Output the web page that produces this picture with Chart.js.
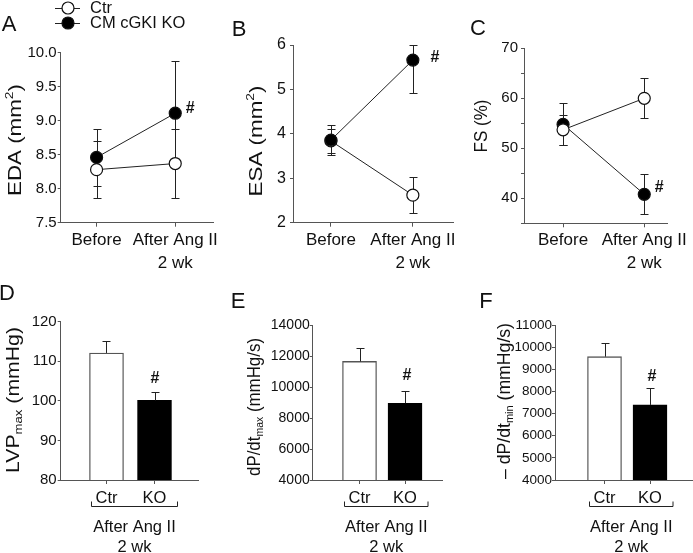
<!DOCTYPE html>
<html>
<head>
<meta charset="utf-8">
<script src="https://cdn.jsdelivr.net/npm/chart.js@4.4.0/dist/chart.umd.min.js"></script>
<style>
  body { margin: 0; background: #fff; }
  #wrap { position: relative; width: 693px; height: 553px; overflow: hidden; }
  #wrap canvas { position: absolute; }
</style>
</head>
<body>
<div id="wrap">
  <canvas id="cA"></canvas>
  <canvas id="cB"></canvas>
  <canvas id="cC"></canvas>
  <canvas id="cD"></canvas>
  <canvas id="cE"></canvas>
  <canvas id="cF"></canvas>
</div>
<script>
// ---- data ----
var groups = ['Ctr', 'CM cGKI KO'];
var timeLabels = ['Before', ['After Ang II', '2 wk']];
var barLabels = ['Ctr', 'KO'];
var groupLabel = ['After Ang II', '2 wk'];

// echo, mean and SD for Ctr / KO at Before, After
var edaCtr = [8.28, 8.37], edaCtrErr = [0.42, 0.51];
var edaKO = [8.46, 9.11], edaKOErr = [0.42, 0.77];
var esaCtr = [3.84, 2.62], esaCtrErr = [0.28, 0.41];
var esaKO = [3.86, 5.66], esaKOErr = [0.34, 0.74];
var fsCtr = [53.7, 60.0], fsCtrErr = [3.0, 4.0];
var fsKO = [54.8, 40.8], fsKOErr = [4.2, 4.0];

// haemodynamics after Ang II, Ctr / KO
var lvpMean = [112.1, 100.1], lvpErr = [3.0, 2.1];
var dpMaxMean = [11650, 8950], dpMaxErr = [860, 770];
var dpMinMean = [9570, 7390], dpMinErr = [600, 750];

// axis ticks
var edaTicks = [7.5, 8.0, 8.5, 9.0, 9.5, 10.0];
var esaTicks = [2, 3, 4, 5, 6];
var fsTicks = [35, 40, 45, 50, 55, 60, 65, 70];
var lvpTicks = [80, 90, 100, 110, 120];
var dpMaxTicks = [4000, 6000, 8000, 10000, 12000, 14000];
var dpMinTicks = [4000, 5000, 6000, 7000, 8000, 9000, 10000, 11000];

var FONT = "'Liberation Sans', Arial, sans-serif";
var AXIS = '#555';
var INK = '#111';

function pts(vals) {
    return vals.map(function (v, i) { return { x: i + 1, y: v }; });
}

// rotated axis title with sub/superscript pieces, stretched to a given length
function drawRich(ctx, parts, size, cx, cy, len) {
    var widths = [], total = 0;
    parts.forEach(function (p) {
        ctx.font = (p[1] ? size * 0.62 : size) + 'px ' + FONT;
        var w = ctx.measureText(p[0]).width;
        widths.push(w);
        total += w;
    });
    ctx.save();
    ctx.translate(cx, cy);
    ctx.rotate(-Math.PI / 2);
    if (len) { ctx.scale(len / total, 1); }
    ctx.fillStyle = INK;
    ctx.textAlign = 'left';
    ctx.textBaseline = 'alphabetic';
    var x = -total / 2, base = size * 0.36;
    parts.forEach(function (p, k) {
        ctx.font = (p[1] ? size * 0.62 : size) + 'px ' + FONT;
        var y = base;
        if (p[1] === 'sup') { y = base - size * 0.4; }
        if (p[1] === 'sub') { y = base + size * 0.2; }
        ctx.fillText(p[0], x, y);
        x += widths[k];
    });
    ctx.restore();
}

function drawErrors(chart, cfg) {
    var ctx = chart.ctx, xs = chart.scales.x, ys = chart.scales.y, a = chart.chartArea;
    ctx.save();
    ctx.strokeStyle = '#222';
    ctx.lineWidth = 1;
    chart.data.datasets.forEach(function (ds) {
        ds.data.forEach(function (p, i) {
            var e = ds.err[i];
            var x = Math.round(xs.getPixelForValue(p.x)) + 0.5;
            var top = Math.round(Math.max(ys.getPixelForValue(p.y + e), a.top)) + 0.5;
            var bot = cfg.upOnly ? ys.getPixelForValue(p.y) :
                Math.round(Math.min(ys.getPixelForValue(p.y - e), a.bottom)) + 0.5;
            ctx.beginPath();
            ctx.moveTo(x, top);
            ctx.lineTo(x, bot);
            ctx.moveTo(x - cfg.cap, top);
            ctx.lineTo(x + cfg.cap, top);
            if (!cfg.upOnly) {
                ctx.moveTo(x - cfg.cap, bot);
                ctx.lineTo(x + cfg.cap, bot);
            }
            ctx.stroke();
        });
    });
    ctx.restore();
}

function makeDeco(cfg) {
    return {
        id: 'deco',
        beforeDatasetsDraw: function (chart) {
            if (!cfg.upOnly) { drawErrors(chart, cfg); }
        },
        afterDatasetsDraw: function (chart) {
            if (cfg.upOnly) { drawErrors(chart, cfg); }
        },
        afterDraw: function (chart) {
            var ctx = chart.ctx, xs = chart.scales.x, ys = chart.scales.y;

            // significance mark
            var ds = chart.data.datasets[cfg.hash.ds];
            var p = ds.data[cfg.hash.i];
            var hy = cfg.upOnly ? p.y + ds.err[cfg.hash.i] : p.y;
            ctx.save();
            ctx.fillStyle = INK;
            ctx.font = 'bold 16px ' + FONT;
            ctx.textAlign = 'center';
            ctx.textBaseline = 'middle';
            ctx.fillText('#', xs.getPixelForValue(p.x) + cfg.hash.dx, ys.getPixelForValue(hy) + cfg.hash.dy);

            // bracket under the bars
            if (cfg.bracket) {
                var x0 = xs.getPixelForValue(1) - 15, x1 = xs.getPixelForValue(2) + 23;
                var by = Math.round(ys.bottom + 26) + 0.5;
                ctx.strokeStyle = '#222';
                ctx.lineWidth = 1;
                ctx.beginPath();
                ctx.moveTo(x0, by - 5);
                ctx.lineTo(x0, by);
                ctx.lineTo(x1, by);
                ctx.lineTo(x1, by - 5);
                ctx.stroke();
                ctx.font = '16.5px ' + FONT;
                ctx.fillText(groupLabel[0], (x0 + x1) / 2, ys.bottom + 47);
                ctx.fillText(groupLabel[1], (x0 + x1) / 2, ys.bottom + 67);
            }
            ctx.restore();

            // page-coordinate decorations
            ctx.save();
            ctx.translate(-cfg.box[0], -cfg.box[1]);
            ctx.fillStyle = INK;
            ctx.font = '22px ' + FONT;
            ctx.textAlign = 'center';
            ctx.textBaseline = 'middle';
            ctx.fillText(cfg.letter, cfg.letterPos[0], cfg.letterPos[1]);
            drawRich(ctx, cfg.title, 18.5, cfg.titlePos[0], cfg.titlePos[1], cfg.titleLen);

            if (cfg.legend) {
                chart.data.datasets.forEach(function (d, k) {
                    var ly = 8 + k * 15;
                    ctx.strokeStyle = '#222';
                    ctx.lineWidth = 1;
                    ctx.beginPath();
                    ctx.moveTo(55, ly + 0.5);
                    ctx.lineTo(80, ly + 0.5);
                    ctx.stroke();
                    ctx.beginPath();
                    ctx.arc(68, ly, 6, 0, Math.PI * 2);
                    ctx.fillStyle = d.pointBackgroundColor;
                    ctx.fill();
                    ctx.lineWidth = 1.2;
                    ctx.strokeStyle = '#111';
                    ctx.stroke();
                    ctx.fillStyle = INK;
                    ctx.font = '16.5px ' + FONT;
                    ctx.textAlign = 'left';
                    ctx.fillText(d.label, 90, ly);
                });
            }
            ctx.restore();
        }
    };
}

function makePanel(id, cfg) {
    var box = cfg.box, area = cfg.area;
    var cv = document.getElementById(id);
    cv.width = box[2];
    cv.height = box[3];
    cv.style.left = box[0] + 'px';
    cv.style.top = box[1] + 'px';

    var isBar = cfg.type === 'bar';
    var xLabels = isBar ? barLabels : timeLabels;

    return new Chart(cv, {
        type: isBar ? 'bar' : 'scatter',
        data: { datasets: cfg.datasets },
        options: {
            responsive: false,
            animation: false,
            devicePixelRatio: 1,
            events: [],
            layout: {
                autoPadding: false,
                padding: { left: 0, top: area[1] - box[1], right: box[0] + box[2] - area[2], bottom: 0 }
            },
            plugins: { legend: { display: false }, tooltip: { enabled: false } },
            scales: {
                x: {
                    type: 'linear',
                    bounds: 'data',
                    offset: false,
                    min: cfg.xRange[0],
                    max: cfg.xRange[1],
                    afterBuildTicks: function (s) {
                        s.ticks = xLabels.map(function (l, i) { return { value: i + 1 }; });
                    },
                    afterFit: function (s) { s.height = box[1] + box[3] - area[3]; },
                    ticks: {
                        autoSkip: false,
                        maxRotation: 0,
                        padding: cfg.xPad,
                        color: INK,
                        font: { family: FONT, size: cfg.xFont, lineHeight: 1.35 },
                        callback: function (v, i) { return xLabels[i]; }
                    },
                    grid: { offset: false, drawOnChartArea: false, tickLength: 4, color: AXIS },
                    border: { color: AXIS, width: 1 }
                },
                y: {
                    type: 'linear',
                    bounds: 'data',
                    min: cfg.yTicks[0],
                    max: cfg.yTicks[cfg.yTicks.length - 1],
                    afterBuildTicks: function (s) {
                        s.ticks = cfg.yTicks.map(function (v) { return { value: v }; });
                    },
                    afterFit: function (s) { s.width = area[0] - box[0]; },
                    ticks: {
                        autoSkip: false,
                        padding: cfg.yPad,
                        color: INK,
                        font: { family: FONT, size: cfg.yFont },
                        callback: cfg.yFmt
                    },
                    grid: { drawOnChartArea: false, tickLength: 3, color: AXIS },
                    border: { color: AXIS, width: 1 }
                }
            }
        },
        plugins: [makeDeco(cfg)]
    });
}

function lineSet(label, vals, err, fill, order) {
    return {
        label: label,
        data: pts(vals),
        err: err,
        order: order,
        showLine: true,
        borderColor: '#222',
        borderWidth: 1,
        pointRadius: 6,
        pointBackgroundColor: fill,
        pointBorderColor: '#111',
        pointBorderWidth: 1.2
    };
}

function barSet(vals, err) {
    return {
        data: pts(vals),
        err: err,
        backgroundColor: ['#fff', '#000'],
        borderColor: ['#555', '#000'],
        borderWidth: 1.3,
        barThickness: 34
    };
}

function plain(v) { return String(v); }

makePanel('cA', {
    box: [0, 0, 230, 280], area: [60.7, 52.7, 213, 222.7], xRange: [0.544, 2.48],
    datasets: [lineSet(groups[0], edaCtr, edaCtrErr, '#fff', 0), lineSet(groups[1], edaKO, edaKOErr, '#000', 1)],
    yTicks: edaTicks, yFmt: function (v) { return v.toFixed(1); }, yFont: 15, yPad: 1, xFont: 17, xPad: 2,
    cap: 4, letter: 'A', letterPos: [9, 25], legend: true,
    title: [['EDA (mm', ''], ['2', 'sup'], [')', '']], titlePos: [14, 140], titleLen: 112,
    hash: { ds: 1, i: 1, dx: 15, dy: -5 }
});

makePanel('cB', {
    box: [226, 0, 236, 280], area: [293, 45, 453, 222.7], xRange: [0.537, 2.49],
    datasets: [lineSet(groups[0], esaCtr, esaCtrErr, '#fff', 1), lineSet(groups[1], esaKO, esaKOErr, '#000', 0)],
    yTicks: esaTicks, yFmt: plain, yFont: 16, yPad: 4, xFont: 17, xPad: 2,
    cap: 4, letter: 'B', letterPos: [239, 30],
    title: [['ESA (mm', ''], ['2', 'sup'], [')', '']], titlePos: [255, 141], titleLen: 111,
    hash: { ds: 1, i: 1, dx: 22, dy: -3 }
});

makePanel('cC', {
    box: [462, 0, 231, 280], area: [524, 48.3, 667, 223.3], xRange: [0.519, 2.28],
    datasets: [lineSet(groups[0], fsCtr, fsCtrErr, '#fff', 0), lineSet(groups[1], fsKO, fsKOErr, '#000', 1)],
    yTicks: fsTicks, yFmt: function (v) { return v % 10 === 0 ? String(v) : ''; }, yFont: 15, yPad: 3, xFont: 17, xPad: 2,
    cap: 4, letter: 'C', letterPos: [478, 29],
    title: [['FS (%)', '']], titlePos: [480, 126], titleLen: 53,
    hash: { ds: 1, i: 1, dx: 15, dy: -7 }
});

makePanel('cD', {
    type: 'bar', box: [0, 280, 230, 273], area: [60.7, 321.7, 198, 480], xRange: [0.046, 2.906],
    datasets: [barSet(lvpMean, lvpErr)],
    yTicks: lvpTicks, yFmt: plain, yFont: 15, yPad: 1, xFont: 16.5, xPad: 3,
    cap: 4, upOnly: true, bracket: true, letter: 'D', letterPos: [7, 294],
    title: [['LVP', ''], ['max', 'sub'], [' (mmHg)', '']], titlePos: [12, 400], titleLen: 146,
    hash: { ds: 0, i: 1, dx: 0.5, dy: -13.5 }
});

makePanel('cE', {
    type: 'bar', box: [226, 280, 236, 273], area: [312.7, 325, 442, 480], xRange: [-0.029, 2.813],
    datasets: [barSet(dpMaxMean, dpMaxErr)],
    yTicks: dpMaxTicks, yFmt: plain, yFont: 14, yPad: 0, xFont: 16.5, xPad: 3,
    cap: 4, upOnly: true, bracket: true, letter: 'E', letterPos: [238, 302],
    title: [['dP/dt', ''], ['max', 'sub'], [' (mmHg/s)', '']], titlePos: [253, 407], titleLen: 138,
    hash: { ds: 0, i: 1, dx: 2, dy: -16 }
});

makePanel('cF', {
    type: 'bar', box: [462, 280, 231, 273], area: [555, 325, 692, 480], xRange: [-0.088, 2.923],
    datasets: [barSet(dpMinMean, dpMinErr)],
    yTicks: dpMinTicks, yFmt: plain, yFont: 13.5, yPad: 0, xFont: 16.5, xPad: 3,
    cap: 4, upOnly: true, bracket: true, letter: 'F', letterPos: [486, 302],
    title: [['\u2013 dP/dt', ''], ['min', 'sub'], [' (mmHg/s)', '']], titlePos: [503, 401], titleLen: 156,
    hash: { ds: 0, i: 1, dx: 2, dy: -12 }
});
</script>
</body>
</html>
